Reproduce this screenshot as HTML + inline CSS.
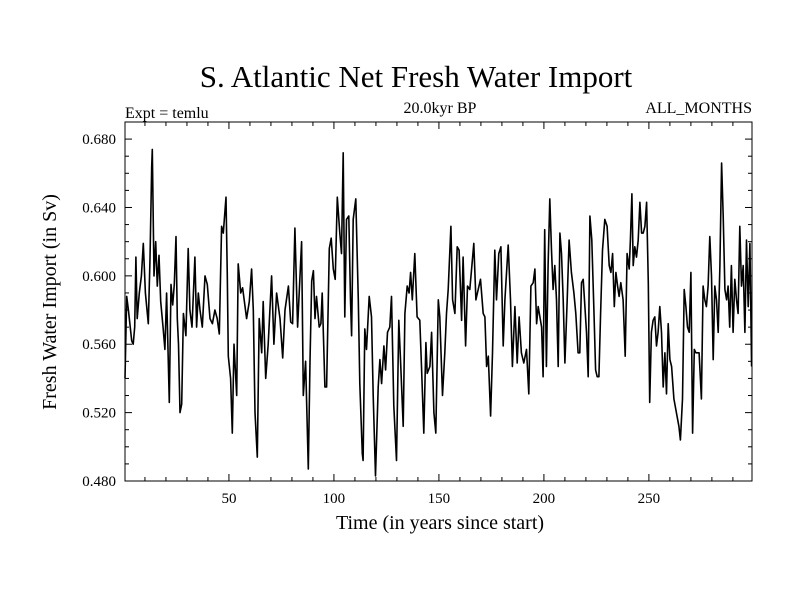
<!DOCTYPE html>
<html><head><meta charset="utf-8"><style>
body{margin:0;background:#fff}
svg{display:block;font-family:"Liberation Serif",serif}
</style></head><body>
<svg id="chart" width="800" height="600" viewBox="0 0 800 600" xmlns="http://www.w3.org/2000/svg">
<rect width="800" height="600" fill="#fff"/>
<text x="416" y="87" font-size="31" text-anchor="middle">S. Atlantic Net Fresh Water Import</text>
<text x="125" y="118" font-size="16">Expt = temlu</text>
<text x="440" y="113" font-size="16" text-anchor="middle">20.0kyr BP</text>
<text x="752" y="113" font-size="16" text-anchor="end">ALL_MONTHS</text>
<text x="440" y="529" font-size="20" text-anchor="middle">Time (in years since start)</text>
<text transform="translate(56,302) rotate(-90)" font-size="20" text-anchor="middle">Fresh Water Import (in Sv)</text>
<g id="axes"></g>
<path id="line" fill="none" stroke="#000" stroke-width="1.6" stroke-linejoin="round"/>
<rect x="125" y="122" width="627" height="359" fill="none" stroke="#000" stroke-width="1"/>
</svg>
<script>
const years=[0.5,1.3,2.1,3.7,4.4,5.1,5.7,6.3,7.3,8.3,9.2,10.2,11.6,12.4,13.2,13.5,14.3,15.1,15.9,16.7,17.5,18.7,19.5,20.3,21.6,22.4,23.2,24.0,24.8,25.4,26.0,26.7,27.5,28.3,29.5,30.6,31.4,32.4,33.8,34.6,35.4,36.2,37.3,38.6,39.7,41.0,42.1,43.3,44.4,45.4,46.5,47.3,48.6,49.2,49.7,50.8,51.6,52.4,53.7,54.4,55.6,56.5,58.4,59.7,60.8,61.6,62.4,63.5,64.4,65.6,66.3,67.5,68.7,70.3,71.4,72.7,74.3,75.6,76.7,78.3,79.4,80.3,81.4,82.7,84.6,85.4,86.5,87.8,88.6,89.4,90.2,91.0,91.7,93.0,93.8,94.4,95.7,96.5,97.8,98.7,99.7,100.6,101.6,
102.8,103.6,104.4,105.2,106.0,107.1,107.9,108.4,109.2,110.4,111.6,112.3,113.5,113.9,114.7,115.5,116.8,117.9,118.7,119.8,121.1,121.9,122.7,123.8,124.6,125.5,126.6,127.4,128.5,129.8,130.9,131.7,133.0,133.8,134.9,135.8,136.5,137.3,138.5,139.6,140.9,141.7,142.8,143.8,144.4,145.7,146.5,147.6,148.5,149.7,150.4,151.7,152.8,153.6,154.4,155.7,156.5,157.6,158.7,159.6,160.8,161.5,162.7,163.6,164.7,165.7,166.6,167.6,168.7,169.8,171.1,171.9,172.7,173.5,174.6,175.5,176.6,177.4,178.5,179.5,180.6,181.4,183.0,184.1,185.0,186.2,187.3,188.2,189.3,190.4,191.7,192.8,193.8,194.9,195.7,196.5,197.3,
198.9,199.6,200.4,201.2,202.0,202.8,203.6,204.4,205.2,206.0,206.8,207.6,208.4,209.2,210.0,211.1,212.0,213.1,214.3,215.2,216.3,217.1,217.9,218.7,219.5,220.3,221.1,221.9,222.8,223.8,224.6,225.4,226.2,227.0,227.9,229.0,230.1,231.1,231.9,232.7,233.5,234.3,235.1,235.8,236.6,237.7,238.7,239.6,240.6,241.2,241.9,242.5,243.3,244.1,244.9,245.7,246.5,247.3,248.1,248.9,249.7,250.4,251.2,252.0,252.8,253.6,254.4,255.2,256.0,256.8,257.6,258.4,259.2,260.0,260.8,261.9,263.1,264.3,265.0,266.0,266.8,267.6,268.4,269.2,270.0,270.8,271.6,272.4,273.1,273.9,275.0,275.8,276.6,277.4,278.2,279.0,279.8,280.6,281.4,282.2,283.0,283.8,284.6,285.4,286.2,287.0,287.7,288.5,289.3,290.1,290.9,291.7,292.5,293.3,294.1,294.9,295.7,296.5,297.3,298.1,298.9];
const imports=[0.540,0.588,0.580,0.562,0.560,0.570,0.611,0.575,0.590,0.600,0.619,0.590,0.572,0.610,0.664,0.674,0.600,0.620,0.594,0.612,0.585,0.569,0.557,0.590,0.526,0.595,0.583,0.595,0.623,0.575,0.560,0.520,0.525,0.578,0.565,0.616,0.580,0.570,0.611,0.570,0.590,0.580,0.570,0.600,0.595,0.575,0.572,0.580,0.575,0.566,0.629,0.625,0.646,0.600,0.553,0.540,0.508,0.560,0.530,0.607,0.590,0.593,0.575,0.585,0.604,0.580,0.520,0.494,0.575,0.555,0.585,0.540,0.560,0.600,0.560,0.590,0.575,0.552,0.580,0.594,0.573,0.572,0.628,0.570,0.620,0.530,0.550,0.487,0.550,0.597,0.603,0.575,0.588,0.570,0.572,0.590,0.535,0.535,0.616,0.622,0.604,0.598,0.646,
0.625,0.613,0.672,0.576,0.633,0.635,0.586,0.565,0.633,0.645,0.586,0.537,0.496,0.492,0.569,0.557,0.588,0.576,0.530,0.483,0.535,0.551,0.537,0.559,0.545,0.567,0.570,0.588,0.524,0.492,0.574,0.551,0.512,0.578,0.594,0.590,0.602,0.586,0.613,0.576,0.574,0.547,0.508,0.561,0.543,0.547,0.567,0.520,0.508,0.586,0.576,0.530,0.555,0.578,0.592,0.629,0.586,0.578,0.617,0.615,0.574,0.611,0.559,0.594,0.592,0.606,0.619,0.586,0.592,0.598,0.578,0.576,0.547,0.553,0.518,0.555,0.615,0.586,0.613,0.617,0.559,0.586,0.618,0.586,0.547,0.582,0.549,0.576,0.555,0.549,0.557,0.531,0.594,0.596,0.604,0.572,0.582,
0.570,0.541,0.627,0.547,0.606,0.645,0.615,0.592,0.606,0.586,0.547,0.625,0.613,0.586,0.549,0.586,0.621,0.602,0.590,0.578,0.555,0.555,0.596,0.598,0.582,0.567,0.541,0.635,0.621,0.580,0.545,0.541,0.541,0.578,0.615,0.633,0.629,0.606,0.602,0.613,0.582,0.602,0.594,0.588,0.596,0.586,0.553,0.613,0.604,0.621,0.648,0.606,0.617,0.611,0.621,0.643,0.625,0.625,0.629,0.643,0.596,0.526,0.567,0.574,0.576,0.559,0.567,0.582,0.567,0.535,0.555,0.531,0.572,0.551,0.547,0.528,0.520,0.512,0.504,0.528,0.592,0.582,0.570,0.567,0.602,0.508,0.557,0.555,0.555,0.555,0.528,0.594,0.586,0.582,0.594,0.623,0.600,0.551,0.594,0.586,0.567,0.606,0.666,0.635,0.592,0.586,0.594,0.570,0.606,0.567,0.598,0.586,0.578,0.629,0.594,0.606,0.567,0.621,0.582,0.619,0.547];
const xTickLabels=["50","100","150","200","250"];
const xTickValues=[50,100,150,200,250];
const yTickLabels=["0.480","0.520","0.560","0.600","0.640","0.680"];
const yTickValues=[0.48,0.52,0.56,0.60,0.64,0.68];

const L=125,R=752,T=122,B=481;
const X0=0.5,X1=299.1,Y0=0.48,Y1=0.69;
const xs=v=>L+(v-X0)/(X1-X0)*(R-L);
const ys=v=>B-(v-Y0)/(Y1-Y0)*(B-T);
const NS="http://www.w3.org/2000/svg";
const g=document.getElementById('axes');
function ln(x1,y1,x2,y2,name){const e=document.createElementNS(NS,'line');e.setAttribute('x1',x1);e.setAttribute('y1',y1);e.setAttribute('x2',x2);e.setAttribute('y2',y2);e.setAttribute('stroke','#000');e.setAttribute('stroke-width','1');


g.appendChild(e);}
function tx(x,y,s,anchor,name){const e=document.createElementNS(NS,'text');e.setAttribute('x',x);e.setAttribute('y',y);e.setAttribute('font-size','15');e.setAttribute('text-anchor',anchor);e.textContent=s;


g.appendChild(e);}
for(let v=10;v<=290;v+=10){const x=xs(v);const maj=v%50===0;const len=maj?7:4;ln(x,B,x,B-len,'x-tick');ln(x,T,x,T+len,'x-tick-top');}
xTickValues.forEach((v,i)=>tx(xs(v),503,xTickLabels[i],'middle','x-tick-label'));
for(let k=48;k<=69;k++){const v=k/100;const y=ys(v);const maj=(k%4===0);const len=maj?7:4;ln(L,y,L+len,y,'y-tick');ln(R,y,R-len,y,'y-tick-right');}
yTickValues.forEach((v,i)=>tx(116,ys(v)+5,yTickLabels[i],'end','y-tick-label'));
let d='';
for(let i=0;i<years.length;i++){d+=(i?'L':'M')+xs(years[i]).toFixed(1)+','+ys(imports[i]).toFixed(1);}
document.getElementById('line').setAttribute('d',d);
</script>
</body></html>
